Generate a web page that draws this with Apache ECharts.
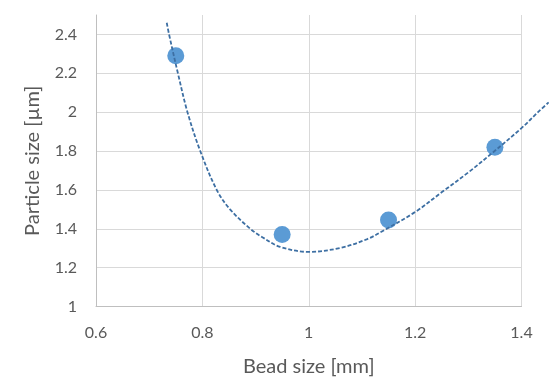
<!DOCTYPE html>
<html>
<head>
<meta charset="utf-8">
<script src="https://cdn.jsdelivr.net/npm/echarts@6/dist/echarts.min.js"></script>
<style>
html,body{margin:0;padding:0;background:#fff;}
#chart{width:550px;height:390px;}
</style>
</head>
<body>
<div id="chart"></div>
<script>
// Measured data points
var beadSize = [0.75, 0.95, 1.15, 1.35];
var particleSize = [2.29, 1.37, 1.445, 1.82];

// Trendline points
var trendX = [0.733, 0.7374, 0.754, 0.772, 0.796, 0.827, 0.852, 0.890, 0.912, 0.946, 1.0, 1.06, 1.11, 1.14, 1.2, 1.251, 1.3, 1.345, 1.4, 1.431, 1.451];
var trendY = [2.46, 2.40, 2.20, 2.00, 1.80, 1.60, 1.50, 1.40, 1.358, 1.307, 1.281, 1.302, 1.347, 1.39, 1.486, 1.59, 1.69, 1.79, 1.918, 2.00, 2.05];

// Axis titles
var xTitle = 'Bead size [mm]';
var yTitle = 'Particle size [\u00b5m]';

var scatterData = beadSize.map(function (x, i) { return [x, particleSize[i]]; });
var trendData = trendX.map(function (x, i) { return [x, trendY[i]]; });

var chart = echarts.init(document.getElementById('chart'), null, {renderer: 'canvas'});
var font = 'Lato, "Liberation Sans", sans-serif';
var plotW = 425.5; // px for 0.6..1.4
var trendRight = 550 - 96 - plotW * (0.85 / 0.8);
chart.setOption({
  animation: false,
  backgroundColor: '#ffffff',
  grid: [
    {left: 96, right: 28.5, top: 15, bottom: 83.5},
    {left: 96, right: trendRight, top: 15, bottom: 83.5}
  ],
  xAxis: [{
    type: 'value',
    gridIndex: 0,
    min: 0.6, max: 1.4, interval: 0.2,
    name: xTitle,
    nameLocation: 'middle',
    nameGap: 50,
    nameTextStyle: {color: '#595959', fontSize: 20, fontFamily: font},
    axisLine: {show: true, lineStyle: {color: '#bfbfbf', width: 1}},
    axisTick: {show: false},
    axisLabel: {color: '#595959', fontSize: 16, fontFamily: font, margin: 18},
    splitLine: {show: true, lineStyle: {color: '#d9d9d9', width: 1}}
  }, {
    type: 'value',
    gridIndex: 1,
    min: 0.6, max: 1.45,
    show: false
  }],
  yAxis: [{
    type: 'value',
    gridIndex: 0,
    min: 1, max: 2.5, interval: 0.2,
    name: yTitle,
    nameLocation: 'middle',
    nameGap: 53,
    nameTextStyle: {color: '#595959', fontSize: 20, fontFamily: font},
    axisLine: {show: true, lineStyle: {color: '#bfbfbf', width: 1}},
    axisTick: {show: false},
    axisLabel: {color: '#595959', fontSize: 16, fontFamily: font, margin: 19, showMaxLabel: false,
      formatter: function (v) { return Math.abs(v - 2.5) < 1e-9 ? '' : String(+v.toFixed(1)); }},
    splitLine: {show: true, showMaxLine: false, lineStyle: {color: '#d9d9d9', width: 1}}
  }, {
    type: 'value',
    gridIndex: 1,
    min: 1, max: 2.5,
    show: false
  }],
  series: [
    {
      type: 'line',
      xAxisIndex: 1,
      yAxisIndex: 1,
      data: trendData,
      showSymbol: false,
      smooth: 0.35,
      lineStyle: {color: '#3d6fa3', width: 1.8, type: [4, 2]},
      z: 3
    },
    {
      type: 'scatter',
      xAxisIndex: 0,
      yAxisIndex: 0,
      data: scatterData,
      symbolSize: 17,
      itemStyle: {color: '#5b9bd5', opacity: 1},
      z: 2
    }
  ]
});
</script>
</body>
</html>
